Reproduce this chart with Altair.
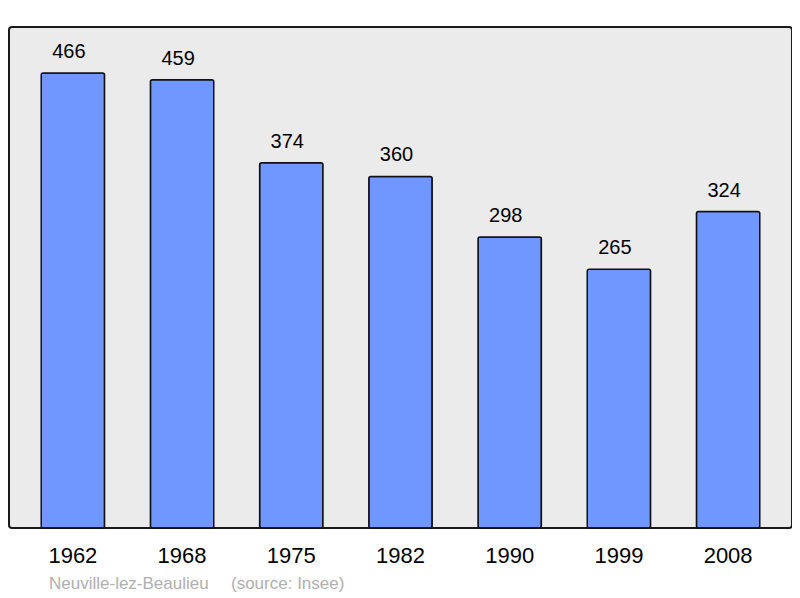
import altair as alt
import pandas as pd

years = ["1962", "1968", "1975", "1982", "1990", "1999", "2008"]
population = [466, 459, 374, 360, 298, 265, 324]
commune = "Neuville-lez-Beaulieu"
source = "(source: Insee)"

df = pd.DataFrame({"year": years, "pop": population})

xscale = alt.Scale(domain=years, paddingInner=0.42, paddingOuter=0.295)
yscale = alt.Scale(domain=[0, 513], nice=False)

base = alt.Chart(df)

bars = base.mark_bar(
    color="#7097ff", stroke="#111111", strokeWidth=1.5, cornerRadius=2
).encode(
    x=alt.X("year:N", scale=xscale, sort=years,
            axis=alt.Axis(title=None, labelAngle=0, labelFontSize=22,
                          labelFont="Liberation Sans", labelColor="#000000",
                          labelPadding=17, domain=False, ticks=False)),
    y=alt.Y("pop:Q", scale=yscale, axis=None),
)

labels = base.mark_text(
    dy=-21, dx=-4, fontSize=20, font="Liberation Sans", color="#000000", baseline="middle"
).encode(
    x=alt.X("year:N", scale=xscale, sort=years),
    y=alt.Y("pop:Q", scale=yscale),
    text=alt.Text("pop:Q"),
)

src1 = alt.Chart(pd.DataFrame({"t": [commune]})).mark_text(
    align="left", baseline="middle", fontSize=17, font="Liberation Sans", color="#b0b0b0"
).encode(x=alt.value(40), y=alt.value(557), text="t:N")

src2 = alt.Chart(pd.DataFrame({"t": [source]})).mark_text(
    align="left", baseline="middle", fontSize=17, font="Liberation Sans", color="#b0b0b0"
).encode(x=alt.value(222), y=alt.value(557), text="t:N")

chart = alt.layer(bars, labels, src1, src2).properties(
    width=783, height=501,
    padding={"left": 1, "top": 19, "right": 0, "bottom": 0},
    background="white",
).configure_view(
    fill="#ebebeb", stroke="#1a1a1a", strokeWidth=2, cornerRadius=3
)

chart.save("out.html", embed_options={"renderer": "svg", "actions": False})
